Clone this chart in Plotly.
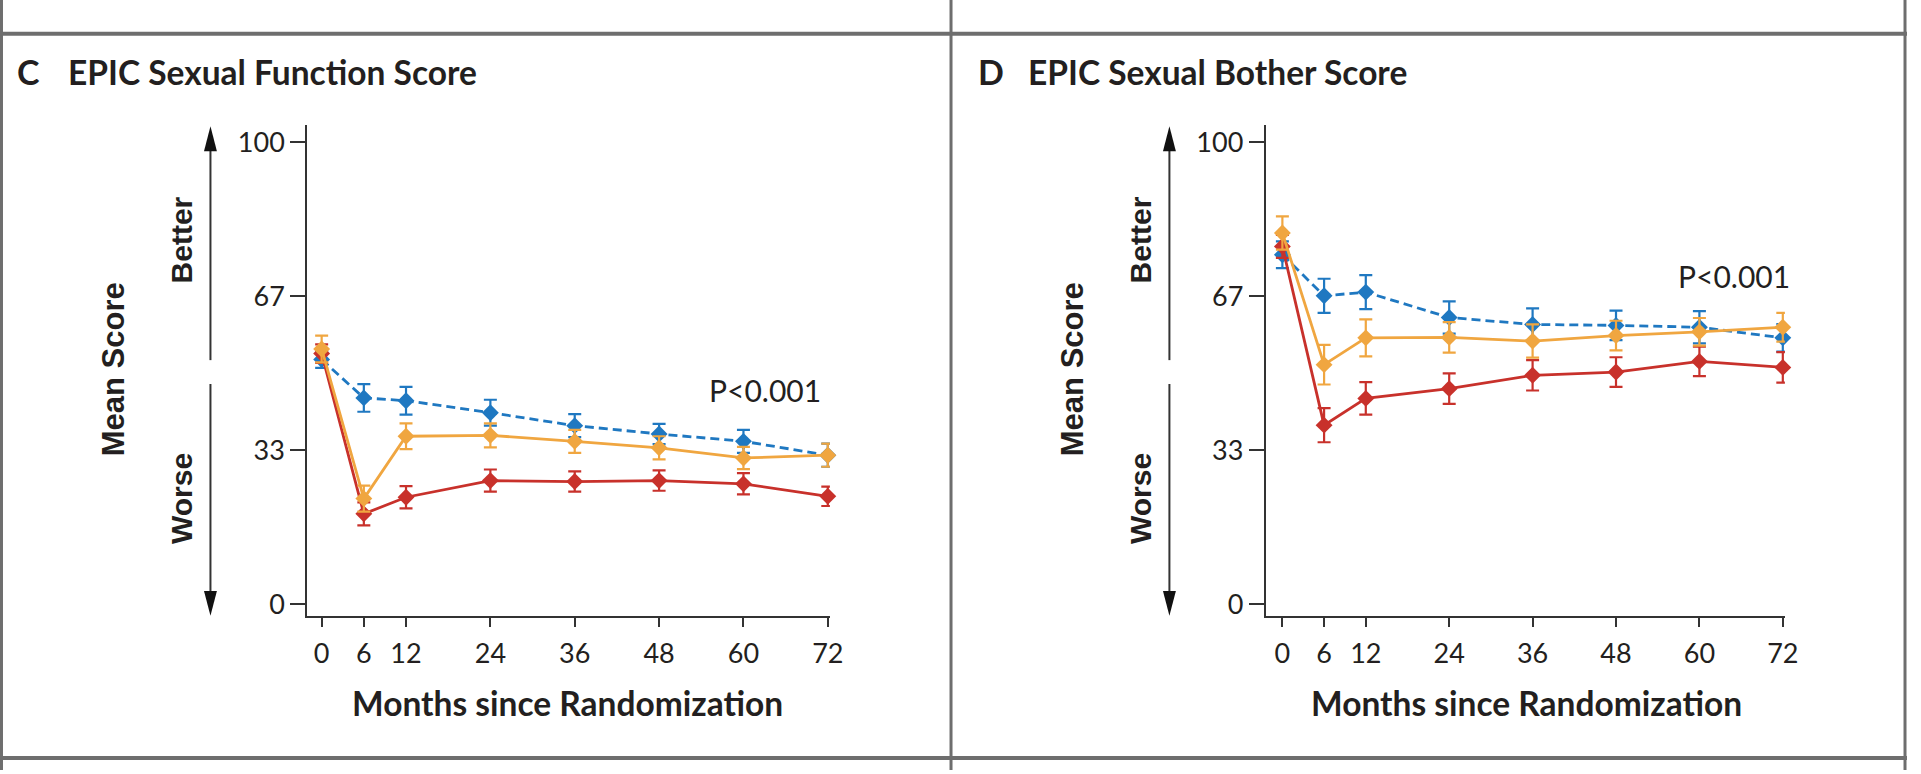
import plotly.graph_objects as go

W, H = 1921, 774

months = [0, 6, 12, 24, 36, 48, 60, 72]
x_ticks = [0, 6, 12, 24, 36, 48, 60, 72]
y_tickvals = [0, 100 / 3, 200 / 3, 100]
y_ticktext = ["0", "33", "67", "100"]

# Panel C: EPIC Sexual Function Score
c_blue = [53.0, 44.7, 44.1, 41.5, 38.7, 36.9, 35.3, 32.3]
c_blue_err = [1.8, 3.0, 3.0, 2.8, 2.5, 2.2, 2.5, 2.5]
c_orange = [55.3, 22.9, 36.4, 36.6, 35.3, 33.9, 31.7, 32.3]
c_orange_err = [2.9, 2.8, 2.8, 2.6, 2.5, 2.5, 2.4, 2.5]
c_red = [54.3, 19.6, 23.2, 26.8, 26.6, 26.8, 26.1, 23.4]
c_red_err = [2.0, 2.5, 2.4, 2.4, 2.2, 2.2, 2.3, 2.1]

# Panel D: EPIC Sexual Bother Score
d_blue = [75.7, 66.8, 67.6, 62.1, 60.6, 60.4, 60.0, 57.7]
d_blue_err = [2.9, 3.7, 3.7, 3.5, 3.5, 3.2, 3.5, 3.0]
d_orange = [80.4, 51.9, 57.7, 57.8, 57.0, 58.2, 59.0, 60.0]
d_orange_err = [3.6, 4.3, 4.0, 3.3, 3.6, 3.2, 3.0, 3.1]
d_red = [77.5, 38.8, 44.6, 46.7, 49.6, 50.3, 52.6, 51.3]
d_red_err = [2.5, 3.7, 3.5, 3.3, 3.3, 3.2, 3.2, 3.3]

BLUE = "#1f78c1"
ORANGE = "#f0a640"
RED = "#c8312b"
TXT = "#231f20"
AX = "#333333"
BORDER = "#6e6e6e"


def X(px):
    return px / W


def Y(py):
    return 1 - py / H


fig = go.Figure()


def add_series(xa, ya, vals, errs, color, dash):
    fig.add_trace(go.Scatter(
        x=months, y=vals, xaxis=xa, yaxis=ya, mode="lines+markers",
        line=dict(color=color, width=2.8, dash=dash),
        marker=dict(symbol="diamond", size=13, color=color),
        error_y=dict(type="data", array=errs, visible=True, color=color,
                     thickness=2.2, width=6.5),
        cliponaxis=False, showlegend=False, hoverinfo="skip"))


for xa, ya, b, be, o, oe, r, re in [
    ("x", "y", c_blue, c_blue_err, c_orange, c_orange_err, c_red, c_red_err),
    ("x2", "y2", d_blue, d_blue_err, d_orange, d_orange_err, d_red, d_red_err),
]:
    add_series(xa, ya, b, be, BLUE, "9px,5px")
    add_series(xa, ya, r, re, RED, "solid")
    add_series(xa, ya, o, oe, ORANGE, "solid")

tickfont = dict(family="Lato, Liberation Sans, sans-serif", size=27, color=TXT)

xcommon = dict(tickvals=x_ticks, ticks="outside", ticklen=9, tickwidth=2,
               tickcolor=AX, showline=True, linecolor=AX, linewidth=2,
               showgrid=False, zeroline=False, tickfont=tickfont,
               ticklabelstandoff=4)
ycommon = dict(tickvals=y_tickvals, ticktext=y_ticktext, ticks="outside",
               ticklen=15, tickwidth=2, tickcolor=AX, showline=True,
               linecolor=AX, linewidth=2, showgrid=False, zeroline=False,
               range=[-2.4, 103.7], tickfont=tickfont, ticklabelstandoff=0)

ydom = [Y(618.7), Y(126)]
fig.update_layout(
    width=W, height=H, autosize=False,
    margin=dict(l=0, r=0, t=0, b=0),
    paper_bgcolor="white", plot_bgcolor="white",
    xaxis=dict(domain=[X(309.5), X(836)], range=[-2.05, 72.3], anchor="y", **xcommon),
    yaxis=dict(domain=ydom, anchor="x", **ycommon),
    xaxis2=dict(domain=[X(1275), X(1798)], range=[-2.4, 72.3], anchor="y2", **xcommon),
    yaxis2=dict(domain=ydom, anchor="x2", **ycommon),
)

shapes = []
# Borders
for xp in [1.5, 958, 1919]:
    shapes.append(dict(type="line", xref="paper", yref="paper", x0=X(xp), x1=X(xp),
                       y0=0, y1=1, line=dict(color=BORDER, width=3)))
for yp in [34, 762]:
    shapes.append(dict(type="line", xref="paper", yref="paper", x0=0, x1=1,
                       y0=Y(yp), y1=Y(yp), line=dict(color=BORDER, width=4)))

annotations = []
lato_b = "Lato, Liberation Sans, sans-serif"
sans_b = "Liberation Sans, Arial, sans-serif"

for off, letter, title in [(0, "C", "EPIC Sexual Function Score"),
                           (966, "D", "EPIC Sexual Bother Score")]:
    # arrows
    ax = 212 + off
    shapes.append(dict(type="line", xref="paper", yref="paper", x0=X(ax), x1=X(ax),
                       y0=Y(148), y1=Y(362), line=dict(color=AX, width=2)))
    shapes.append(dict(type="line", xref="paper", yref="paper", x0=X(ax), x1=X(ax),
                       y0=Y(386), y1=Y(597), line=dict(color=AX, width=2)))
    shapes.append(dict(type="path", xref="paper", yref="paper",
                       path=f"M {X(ax)},{Y(127)} L {X(ax-6.5)},{Y(152)} L {X(ax+6.5)},{Y(152)} Z",
                       fillcolor="#111111", line=dict(width=0)))
    shapes.append(dict(type="path", xref="paper", yref="paper",
                       path=f"M {X(ax)},{Y(619)} L {X(ax-6.5)},{Y(594)} L {X(ax+6.5)},{Y(594)} Z",
                       fillcolor="#111111", line=dict(width=0)))
    # panel letter and title
    annotations.append(dict(text=f"<b>{letter}</b>", xref="paper", yref="paper",
                            x=X(15 + off + (2 if off else 0)), y=Y(72),
                            xanchor="left", yanchor="middle", showarrow=False,
                            font=dict(family=lato_b, size=34, color=TXT)))
    annotations.append(dict(text=f"<b>{title}</b>", xref="paper", yref="paper",
                            x=X(66 + off + (2 if off else 0)), y=Y(72),
                            xanchor="left", yanchor="middle", showarrow=False,
                            font=dict(family=lato_b, size=33.5, color=TXT)))
    # rotated labels
    annotations.append(dict(text="<b>Mean Score</b>", xref="paper", yref="paper",
                            x=X(114 + off), y=Y(371), textangle=-90,
                            xanchor="center", yanchor="middle", showarrow=False,
                            font=dict(family=sans_b, size=31, color=TXT)))
    annotations.append(dict(text="<b>Better</b>", xref="paper", yref="paper",
                            x=X(183 + off), y=Y(241), textangle=-90,
                            xanchor="center", yanchor="middle", showarrow=False,
                            font=dict(family=sans_b, size=30, color=TXT)))
    annotations.append(dict(text="<b>Worse</b>", xref="paper", yref="paper",
                            x=X(183 + off), y=Y(501), textangle=-90,
                            xanchor="center", yanchor="middle", showarrow=False,
                            font=dict(family=sans_b, size=30, color=TXT)))
    # x-axis title
    annotations.append(dict(text="<b>Months since Randomization</b>", xref="paper",
                            yref="paper", x=X(572 + off), y=Y(707),
                            xanchor="center", yanchor="middle", showarrow=False,
                            font=dict(family=lato_b, size=33.5, color=TXT)))

# P values
annotations.append(dict(text="P<0.001", xref="paper", yref="paper", x=X(771), y=Y(392),
                        xanchor="center", yanchor="middle", showarrow=False,
                        font=dict(family=lato_b, size=30, color=TXT)))
annotations.append(dict(text="P<0.001", xref="paper", yref="paper", x=X(1747), y=Y(277),
                        xanchor="center", yanchor="middle", showarrow=False,
                        font=dict(family=lato_b, size=30, color=TXT)))

fig.update_layout(shapes=shapes, annotations=annotations)
fig.write_html("out.html")
